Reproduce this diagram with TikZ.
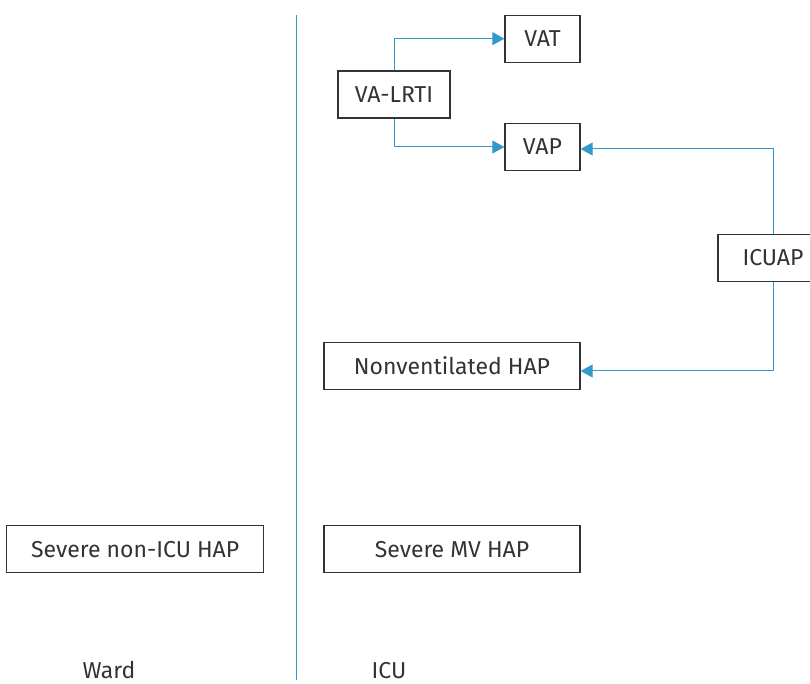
\documentclass[tikz,border=0pt]{standalone}
\usepackage{fontspec}
\setmainfont{Fira Sans}
\usepackage{tikz}
\usetikzlibrary{positioning,arrows.meta}
\definecolor{linkblue}{HTML}{3399CC}
\definecolor{boxframe}{HTML}{333333}

\begin{document}
\begin{tikzpicture}[
  x=0.5pt, y=-0.5pt,
  font=\fontsize{11.5}{13.5}\selectfont,
  box/.style={draw=boxframe, line width=0.65pt, minimum height=23.5pt,
              inner sep=0pt, align=center, fill=white, text=boxframe},
  arr/.style={-{Triangle[length=6pt, width=6.5pt]}, draw=linkblue,
              line width=0.5pt},
  divider/.style={draw=linkblue, line width=0.5pt},
  ]
  \useasboundingbox (0,0) rectangle (810,684);
  \clip (0,0) rectangle (810,684);

  \node[box, minimum width=37.5pt] (vap) at (542.5,147) {VAP};
  \node[box, minimum width=37.5pt, above=30pt of vap] (vat) {VAT};
  \node[box, minimum width=56pt] (lrti) at (394,94.5) {VA-LRTI};
  \node[box, minimum width=55pt] (icuap) at (773,258) {ICUAP};
  \node[box, minimum width=128pt] (nonvent) at (452,366) {Nonventilated HAP};
  \node[box, minimum width=128pt, below=67.5pt of nonvent] (sevmv) {Severe MV HAP};
  \node[box, minimum width=128.5pt, left=29.5pt of sevmv] (sevward) {Severe non-ICU HAP};

  \node[anchor=base, text=boxframe] (ward) at (109,679) {Ward};
  \node[anchor=base, text=boxframe] (icu) at (389,679) {ICU};

  % ward / ICU split
  \coordinate (divtop) at (296,15);
  \coordinate (divbot) at (296,680);
  \draw[divider] (divtop) -- (divbot);

  \draw[arr] (lrti.north) |- (vat.west);
  \draw[arr] (lrti.south) |- (vap.west);
  \draw[arr] (icuap.north) |- ([yshift=-1pt]vap.east);
  \draw[arr] (icuap.south) |- ([yshift=-2.5pt]nonvent.east);
\end{tikzpicture}
\end{document}
